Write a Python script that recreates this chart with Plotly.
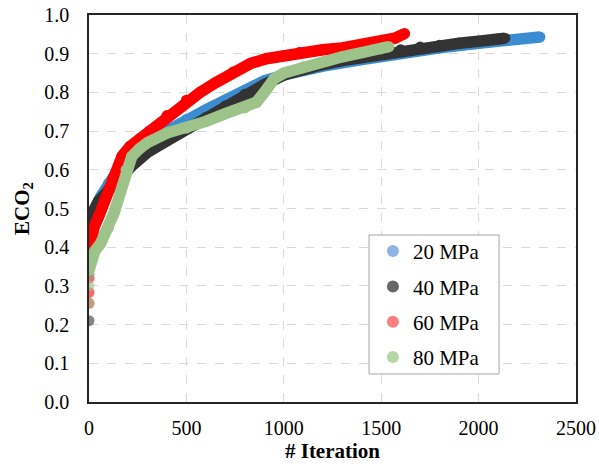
import plotly.graph_objects as go

# ---- data ----
series_names = ["20 MPa", "40 MPa", "60 MPa", "80 MPa"]

x20 = [0, 10, 30, 60, 100, 150, 200, 250, 300, 400, 500, 600, 700, 800, 900, 1000, 1100, 1200, 1400, 1600, 1800, 2000, 2200, 2315]
y20 = [0.42, 0.47, 0.50, 0.53, 0.565, 0.60, 0.635, 0.655, 0.67, 0.70, 0.73, 0.755, 0.78, 0.805, 0.83, 0.845, 0.857, 0.868, 0.885, 0.903, 0.915, 0.927, 0.937, 0.943]

x40 = [0, 5, 20, 50, 100, 150, 200, 230, 300, 400, 500, 600, 700, 800, 900, 1000, 1100, 1200, 1300, 1400, 1500, 1600, 1700, 1800, 1900, 2000, 2100, 2135]
y40 = [0.40, 0.46, 0.49, 0.52, 0.55, 0.58, 0.60, 0.615, 0.645, 0.675, 0.705, 0.735, 0.765, 0.795, 0.82, 0.845, 0.86, 0.872, 0.882, 0.89, 0.898, 0.91, 0.917, 0.922, 0.927, 0.932, 0.938, 0.94]

x60 = [0, 10, 25, 50, 80, 120, 170, 210, 260, 310, 400, 500, 570, 650, 740, 830, 910, 1000, 1080, 1200, 1300, 1400, 1500, 1570, 1620]
y60 = [0.38, 0.42, 0.45, 0.48, 0.52, 0.575, 0.635, 0.66, 0.68, 0.70, 0.74, 0.78, 0.80, 0.825, 0.853, 0.875, 0.887, 0.895, 0.903, 0.91, 0.915, 0.922, 0.93, 0.94, 0.952]

x80 = [0, 10, 30, 60, 100, 130, 160, 190, 220, 260, 300, 400, 500, 600, 700, 800, 860, 900, 950, 1000, 1100, 1200, 1300, 1400, 1500, 1540]
y80 = [0.34, 0.37, 0.39, 0.41, 0.45, 0.49, 0.54, 0.60, 0.635, 0.655, 0.67, 0.695, 0.708, 0.725, 0.745, 0.76, 0.775, 0.80, 0.835, 0.85, 0.866, 0.879, 0.892, 0.903, 0.913, 0.918]

# early isolated iterations near x = 0
ex20 = [0, 0]
ey20 = [0.33, 0.37]
ex40 = [0]
ey40 = [0.21]
ex60 = [0, 0, 0, 0, 0]
ey60 = [0.255, 0.283, 0.32, 0.35, 0.38]
ex80 = [0, 0, 0]
ey80 = [0.255, 0.30, 0.33]

x_ticks = [0, 500, 1000, 1500, 2000, 2500]
y_ticks = [0.0, 0.1, 0.2, 0.3, 0.4, 0.5, 0.6, 0.7, 0.8, 0.9, 1.0]

# ---- styling ----
line_colors = ["#3C8CD2", "#333333", "#FF0000", "#9DC38A"]
legend_colors = ["#8DB4E2", "#666666", "#FF7F7F", "#B5D6A5"]
FONT = "Times New Roman, Liberation Serif, serif"
tick_font = dict(family=FONT, size=20, color="#000")

fig = go.Figure()

data = [(x20, y20, ex20, ey20), (x40, y40, ex40, ey40), (x60, y60, ex60, ey60), (x80, y80, ex80, ey80)]
for (xs, ys, exs, eys), col in zip(data, line_colors):
    fig.add_trace(go.Scatter(x=exs, y=eys, mode="markers", showlegend=False, hoverinfo="skip",
                             marker=dict(size=11, color=col, opacity=0.6, line=dict(width=0))))
    fig.add_trace(go.Scatter(x=xs, y=ys, mode="lines+markers", showlegend=False,
                             line=dict(color=col, width=11.5),
                             marker=dict(size=11, color=col, line=dict(width=0))))

for i, (name, col) in enumerate(zip(series_names, legend_colors)):
    fig.add_trace(go.Scatter(x=[None], y=[None], mode="markers", name=name, legendgroup=f"g{i}",
                             marker=dict(size=12, color=col)))

# legend frame (drawn as a paper-referenced box behind the legend entries)
fig.add_shape(type="rect", xref="paper", yref="paper",
              x0=0.575, x1=0.842, y0=0.0724, y1=0.4315,
              line=dict(color="#A6A6A6", width=1), fillcolor="white", layer="above")

fig.update_layout(
    width=599, height=464,
    margin=dict(l=89, r=23, t=15, b=62),
    paper_bgcolor="white", plot_bgcolor="white",
    font=dict(family=FONT, size=20, color="#000"),
    legend=dict(x=0.583, y=0.442, xanchor="left", yanchor="top",
                bgcolor="rgba(0,0,0,0)", borderwidth=0,
                font=dict(family=FONT, size=21, color="#000"),
                traceorder="grouped", tracegroupgap=5, itemwidth=30),
    xaxis=dict(range=[0, 2500], tickvals=x_ticks, ticktext=[str(v) for v in x_ticks],
               tickfont=tick_font,
               showgrid=True, gridcolor="#D9D9D9", griddash="dash", gridwidth=1,
               showline=True, linecolor="#262626", linewidth=1.5, mirror=True,
               ticks="", zeroline=False, ticklabelstandoff=7, automargin=False,
               title=dict(text="<b># Iteration</b>", font=dict(family=FONT, size=21), standoff=2)),
    yaxis=dict(range=[0, 1], tickvals=y_ticks, ticktext=[f"{v:.1f}" for v in y_ticks],
               tickfont=tick_font,
               showgrid=True, gridcolor="#D9D9D9", griddash="dash", gridwidth=1,
               showline=True, linecolor="#262626", linewidth=1.5, mirror=True,
               ticks="", zeroline=False, ticklabelstandoff=14, automargin=False,
               title=dict(text="<b>ECO<sub>2</sub></b>", font=dict(family=FONT, size=21), standoff=9)),
)

fig.write_html("out.html", config={"displayModeBar": False},
               post_script="document.body.style.margin='0';")
